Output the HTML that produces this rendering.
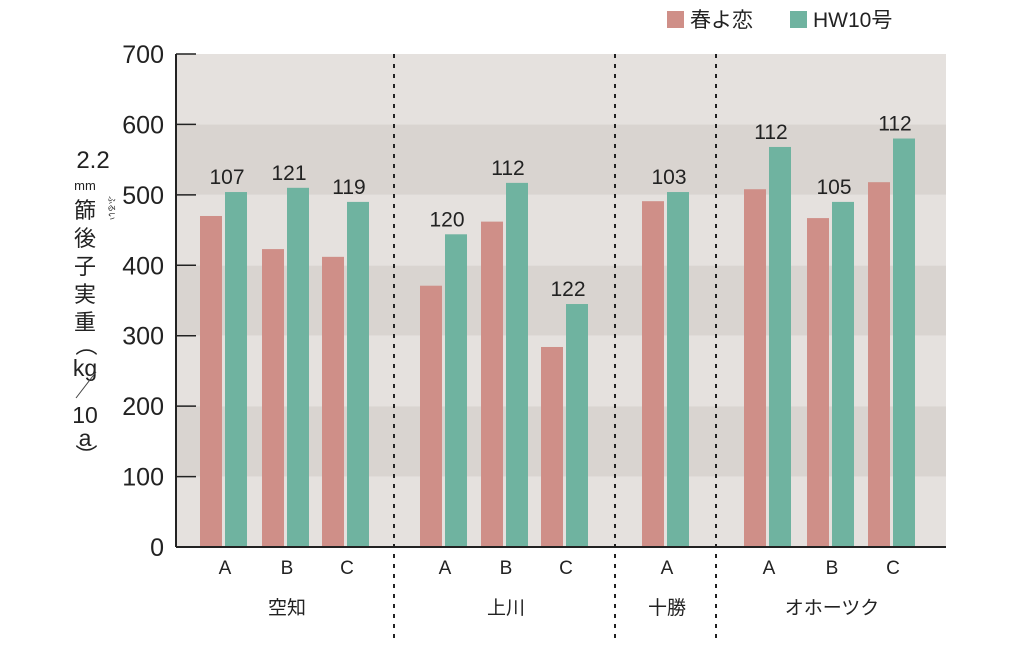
<!DOCTYPE html>
<html><head><meta charset="utf-8"><style>
body{margin:0;background:#fff;}
svg text{font-family:"Liberation Sans","Noto Sans CJK JP",sans-serif;fill:#222;}
</style></head><body>
<svg id="c" width="1024" height="640">
<g id="bands"></g><g id="bars"></g><g id="axes"></g><g id="labels"></g>
<g>
<rect x="667" y="11" width="17" height="17" fill="#cf8f88"/>
<text x="690" y="27" font-size="21">春よ恋</text>
<rect x="790" y="11" width="17" height="17" fill="#6fb3a0"/>
<text x="813" y="27" font-size="21">HW10号</text>
</g>
<g font-size="22">
<text x="93" y="168" text-anchor="middle" font-size="24">2.2</text>
<text x="85" y="190" text-anchor="middle" font-size="13">mm</text>
<text x="85" y="218" text-anchor="middle">篩</text>
<text x="109" y="208" text-anchor="middle" font-size="8" transform="rotate(90 109 208)">ふるい</text>
<text x="85" y="246" text-anchor="middle">後</text>
<text x="85" y="274" text-anchor="middle">子</text>
<text x="85" y="302" text-anchor="middle">実</text>
<text x="85" y="330" text-anchor="middle">重</text>
<text x="85" y="352" text-anchor="middle" transform="rotate(90 85 345)">（</text>
<text x="85" y="376" text-anchor="middle" font-size="23">kg</text>
<line x1="76" y1="398" x2="96" y2="372" stroke="#444" stroke-width="1"/>
<text x="85" y="423" text-anchor="middle" font-size="23">10</text>
<text x="85" y="446" text-anchor="middle" font-size="23">a</text>
<text x="85" y="462" text-anchor="middle" transform="rotate(90 85 455)">）</text>
</g>
</svg>
<script>
const categories=["A","B","C","A","B","C","A","A","B","C"];
const groups=["空知","上川","十勝","オホーツク"];
const haruyokoi=[470,423,412,371,462,284,491,508,467,518];
const hw10=[504,510,490,444,517,345,504,568,490,580];
const ratioLabels=["107","121","119","120","112","122","103","112","105","112"];
const yTicks=[0,100,200,300,400,500,600,700];
const ns="http://www.w3.org/2000/svg";
const X0=176,X1=946,Y0=547,Y1=54,VMAX=700;
const catX=[225,287,347,445,506,566,667,769,832,893];
const groupX=[287,506,667,832];
const dividers=[394,615,716];
function y(v){return Y0-(v/VMAX)*(Y0-Y1);}
function mk(tag,attrs,parent){const e=document.createElementNS(ns,tag);for(const k in attrs)e.setAttribute(k,attrs[k]);document.getElementById(parent).appendChild(e);return e;}
for(let i=0;i<yTicks.length-1;i++){
 const r=mk('rect',{x:X0,y:y(yTicks[i+1]),width:X1-X0,height:y(yTicks[i])-y(yTicks[i+1]),fill:i%2?'#d9d4d0':'#e5e1de'},'bands');
 
 
}
dividers.forEach((d,i)=>{const l=mk('line',{x1:d,y1:Y1,x2:d,y2:640,stroke:'#222','stroke-width':2,'stroke-dasharray':'4 6'},'axes');
 
 });
categories.forEach((c,i)=>{
 const cx=catX[i];
 const p=mk('rect',{x:cx-25,y:y(haruyokoi[i]),width:22,height:Y0-y(haruyokoi[i]),fill:'#cf8f88'},'bars');
 
 
 const g=mk('rect',{x:cx,y:y(hw10[i]),width:22,height:Y0-y(hw10[i]),fill:'#6fb3a0'},'bars');
 
 
 const t=mk('text',{x:cx+2,y:y(hw10[i])-8,'text-anchor':'middle','font-size':21},'labels');t.textContent=ratioLabels[i];
 
 
 const cl=mk('text',{x:cx,y:574,'text-anchor':'middle','font-size':19},'labels');cl.textContent=c;
 
 
});
groups.forEach((g,i)=>{const t=mk('text',{x:groupX[i],y:614,'text-anchor':'middle','font-size':19},'labels');t.textContent=g;
 
 });
yTicks.forEach(v=>{
 const l=mk('line',{x1:X0,y1:y(v),x2:X0+20,y2:y(v),stroke:'#222','stroke-width':1.5},'axes');
 
 
 const t=mk('text',{x:164,y:y(v)+9,'text-anchor':'end','font-size':25},'labels');t.textContent=v;
 
 
});
const ya=mk('line',{x1:X0,y1:Y1,x2:X0,y2:Y0,stroke:'#222','stroke-width':2},'axes');


const xa=mk('line',{x1:X0,y1:Y0,x2:X1,y2:Y0,stroke:'#222','stroke-width':2},'axes');


</script>
</body></html>
